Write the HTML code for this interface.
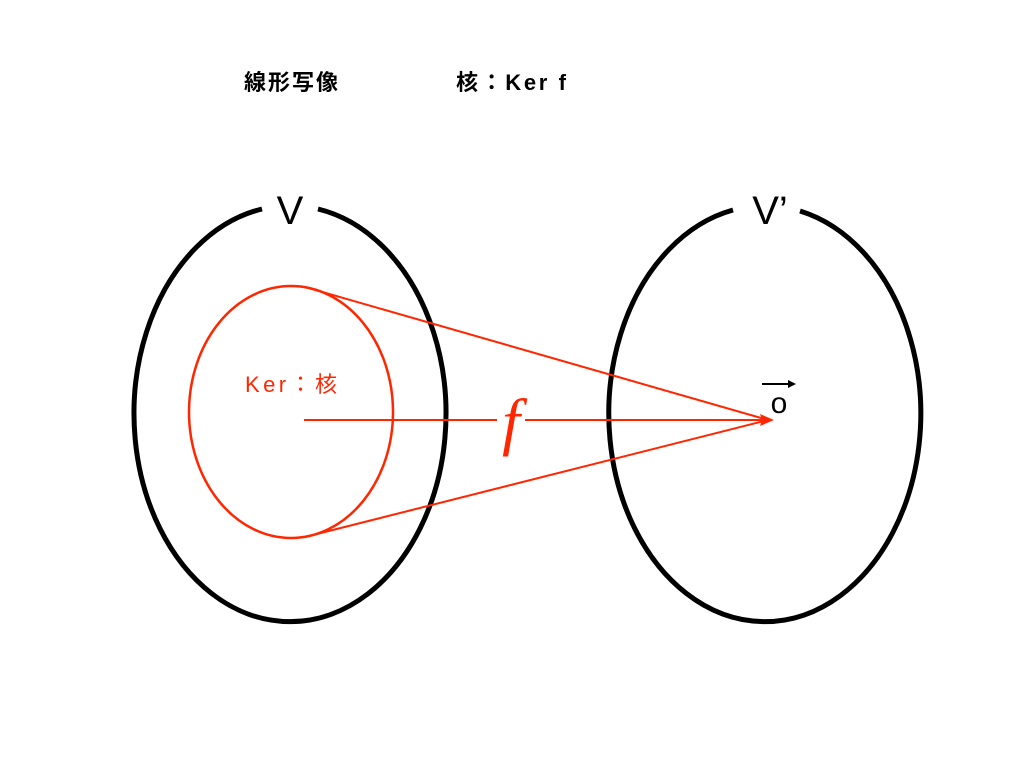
<!DOCTYPE html>
<html><head><meta charset="utf-8"><style>
html,body{margin:0;padding:0;background:#fff;}
svg{display:block}
</style></head><body>
<svg width="1024" height="768" viewBox="0 0 1024 768" xmlns="http://www.w3.org/2000/svg">
<rect width="1024" height="768" fill="#fff"/>
<text x="244" y="90" font-family="Liberation Sans, Noto Sans CJK JP, sans-serif" font-size="22" font-weight="bold" fill="#000" textLength="94">線形写像</text>
<text x="456" y="90" font-family="Liberation Sans, Noto Sans CJK JP, sans-serif" font-size="22" font-weight="bold" fill="#000" textLength="110">核：Ker f</text>
<path d="M318,209 A156,208 0 1 1 262,209" fill="none" stroke="#000" stroke-width="5"/>
<text x="290" y="224" text-anchor="middle" font-family="Liberation Sans, sans-serif" font-size="40" fill="#000">V</text>
<path d="M800,211 A156,208 0 1 1 733,210" fill="none" stroke="#000" stroke-width="5"/>
<text x="770" y="224" text-anchor="middle" font-family="Liberation Sans, sans-serif" font-size="40" fill="#000">V’</text>
<ellipse cx="291" cy="412" rx="102" ry="126" fill="none" stroke="#ff2600" stroke-width="2.5"/>
<text x="245" y="392" font-family="Liberation Sans, Noto Sans CJK JP, sans-serif" font-size="22" fill="#ff2600" textLength="92">Ker：核</text>
<line x1="305" y1="287" x2="768" y2="420" stroke="#ff2600" stroke-width="2"/>
<line x1="305" y1="537" x2="768" y2="420" stroke="#ff2600" stroke-width="2"/>
<line x1="304" y1="420" x2="497" y2="420" stroke="#ff2600" stroke-width="2"/>
<line x1="525" y1="420" x2="762" y2="420" stroke="#ff2600" stroke-width="2"/>
<polygon points="774,420 760,414 762,420 760,426" fill="#ff2600"/>
<text x="511" y="443" text-anchor="middle" font-family="Liberation Serif, serif" font-style="italic" font-size="64" fill="#ff2600">f</text>
<text x="779" y="413" text-anchor="middle" font-family="Liberation Sans, sans-serif" font-size="30" fill="#000">o</text>
<line x1="762" y1="384" x2="790" y2="384" stroke="#000" stroke-width="2"/>
<polygon points="796,384 788,380 788,388" fill="#000"/>
</svg>
</body></html>
